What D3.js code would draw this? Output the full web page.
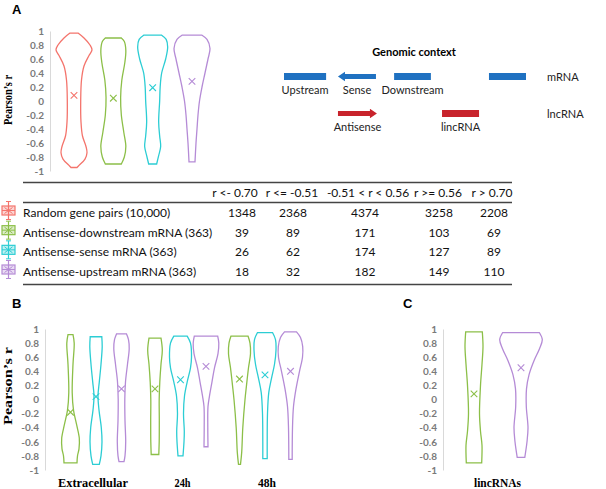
<!DOCTYPE html>
<html><head><meta charset="utf-8">
<script src="https://cdnjs.cloudflare.com/ajax/libs/d3/7.8.5/d3.min.js"></script>
<style>body{margin:0;background:#fff}svg{display:block}</style>
</head><body><svg id="c" width="606" height="489"></svg>
<script>
// ---------------- DATA ----------------
const seriesNames = ["Random gene pairs (10,000)","Antisense-downstream mRNA (363)","Antisense-sense mRNA (363)","Antisense-upstream mRNA (363)"];
const seriesKeys = ["random","downstream","sense","upstream"];
const seriesColors = ["#f4746c","#8cbf48","#2ccdd4","#b58bd6"];
const yTicks = [1,0.8,0.6,0.4,0.2,0,-0.2,-0.4,-0.6,-0.8,-1];

// violin profiles: [r, density(half-width units)]
const violinA_random = [[0.97,4],[0.9,10],[0.8,16],[0.73,18],[0.65,15],[0.5,10],[0.3,7.5],[0,6.7],[-0.3,7],[-0.5,8.5],[-0.65,12],[-0.74,13],[-0.83,11],[-0.92,5],[-0.95,3]];
const violinA_downstream = [[0.9,8],[0.85,11],[0.72,12.5],[0.55,11.5],[0.3,8.5],[0.05,7.3],[-0.2,8],[-0.45,10.5],[-0.65,12.5],[-0.8,11],[-0.9,8]];
const violinA_sense = [[0.94,9],[0.88,13.5],[0.77,15],[0.6,13],[0.4,9],[0.2,7.5],[0,7],[-0.3,6],[-0.5,7],[-0.65,8],[-0.78,6],[-0.9,4]];
const violinA_upstream = [[0.94,10],[0.88,15],[0.75,18],[0.6,16],[0.4,13],[0.2,10],[0,7.5],[-0.2,6],[-0.4,5],[-0.6,4],[-0.87,3]];
const meansA = [0.08,0.04,0.19,0.28];

const tableColumns = ["r <- 0.70","r <= -0.51","-0.51 < r < 0.56","r >= 0.56","r > 0.70"];
const countsRandom = [1348,2368,4374,3258,2208];
const countsDownstream = [39,89,171,103,69];
const countsSense = [26,62,174,127,89];
const countsUpstream = [18,32,182,149,110];

const groupsB = ["Extracellular","24h","48h"];
const seriesB = ["downstream","sense","upstream"];
const violinB_ext_down = [[0.92,2.5],[0.8,3.7],[0.5,2.5],[0.1,1.7],[-0.15,3],[-0.35,6],[-0.55,8.8],[-0.7,8.5],[-0.8,7],[-0.9,6.5]];
const violinB_ext_sense = [[0.89,5.8],[0.75,6.2],[0.5,5],[0.25,3.3],[0.05,2],[-0.15,3],[-0.4,5.3],[-0.6,6],[-0.8,5],[-0.92,3.3]];
const violinB_ext_up = [[0.93,5],[0.85,7],[0.72,7.7],[0.5,6],[0.25,4],[0,3.3],[-0.3,3.5],[-0.6,4.2],[-0.8,3.5],[-0.88,2.5]];
const violinB_24_down = [[0.87,6],[0.7,7.3],[0.5,6],[0.25,4.8],[0,4.2],[-0.3,4.3],[-0.6,4.2],[-0.78,3.8]];
const violinB_24_sense = [[0.9,6.7],[0.8,10],[0.6,11],[0.45,10],[0.25,6.7],[0.05,4],[-0.2,3],[-0.45,3.8],[-0.6,3.5],[-0.8,2.5]];
const violinB_24_up = [[0.9,11.7],[0.8,12.8],[0.65,12],[0.45,8.5],[0.25,6],[0.05,3.5],[-0.1,2],[-0.4,1.8],[-0.67,2]];
const violinB_48_down = [[0.9,8.5],[0.8,10.5],[0.65,11],[0.45,9],[0.2,7],[0,5.5],[-0.4,3.3],[-0.75,2.2],[-0.92,1]];
const violinB_48_sense = [[0.95,7.5],[0.85,10.5],[0.7,11],[0.5,9.5],[0.3,6.5],[0.1,3.8],[-0.2,2.5],[-0.6,2.2],[-0.84,2.2]];
const violinB_48_up = [[0.96,6],[0.88,10],[0.75,12.2],[0.6,12],[0.4,9],[0.15,5.5],[-0.1,3],[-0.4,2],[-0.85,1.7]];
const meansB = [-0.18,0.04,0.15,0.15,0.28,0.47,0.29,0.35,0.4];

const seriesC = ["downstream","upstream"];
const violinC_down = [[0.96,8.3],[0.75,9],[0.5,8],[0.2,6.5],[-0.2,5.5],[-0.45,6.5],[-0.65,8],[-0.9,7.7]];
const violinC_up = [[0.95,18.3],[0.85,21.3],[0.72,18.5],[0.55,13],[0.35,8],[0.15,5.5],[-0.1,5.3],[-0.4,7],[-0.6,6],[-0.82,3.8]];
const meansC = [0.08,0.45];

// genomic context diagram (position units 0-100)
const genomicTracks = ["mRNA","lncRNA"];
const genomicElements = [
  {label:"Upstream", track:"mRNA", start:0, end:17.4, strand:0},
  {label:"Sense", track:"mRNA", start:22.3, end:38, strand:-1},
  {label:"Downstream", track:"mRNA", start:45.5, end:60.7, strand:0},
  {label:"", track:"mRNA", start:84.7, end:100, strand:0},
  {label:"Antisense", track:"lncRNA", start:22.3, end:38.4, strand:1},
  {label:"lincRNA", track:"lncRNA", start:65.3, end:80.6, strand:0}
];
const trackColors = ["#1f71c1","#c8232c"];

// ---------------- DRAW ----------------
const svg = d3.select("#c");
const color = d3.scaleOrdinal(seriesKeys, seriesColors);
const dens = d3.scaleLinear([0,20],[0,20]);
const tickFmt = d => String(+d.toFixed(1));
const sansFont = "Lato, 'Open Sans', sans-serif";

function drawAxis(y, axisX, labelSize) {
  const g = svg.append("g").attr("transform", `translate(${axisX},0)`)
    .call(d3.axisLeft(y).tickValues(yTicks).tickFormat(tickFmt).tickSize(0).tickPadding(6));
  g.select(".domain").attr("stroke","#d9d9d9").attr("stroke-width",1);
  g.selectAll("text").attr("fill","#7a7a7a").attr("font-family",sansFont)
    .attr("font-weight","bold").attr("font-size",labelSize);
}

function drawViolin(profile, cx, y, col, mean) {
  const area = d3.area().curve(d3.curveCatmullRom.alpha(0.5))
    .y(d => y(d[0])).x0(d => cx - dens(d[1])).x1(d => cx + dens(d[1]));
  svg.append("path").attr("d", area(profile)).attr("fill","none")
    .attr("stroke", col).attr("stroke-width",1.3);
  const s = 3.3, my = y(mean);
  svg.append("path").attr("d", `M${cx-s},${my-s}L${cx+s},${my+s}M${cx-s},${my+s}L${cx+s},${my-s}`)
    .attr("stroke", col).attr("stroke-width",1.1);
}

function panelLabel(t, x, yb) {
  svg.append("text").text(t).attr("x",x).attr("y",yb).attr("font-family","'Liberation Sans', Arial, sans-serif")
    .attr("font-weight","bold").attr("font-size",13).attr("fill","#000");
}
function yTitle(cx, cy, size, len) {
  svg.append("text").text("Pearson\u2019s r").attr("transform",`translate(${cx},${cy}) rotate(-90)`)
    .attr("text-anchor","middle").attr("font-family","'Liberation Serif', 'Times New Roman', serif")
    .attr("font-weight","bold").attr("font-size",size).attr("textLength",len).attr("lengthAdjust","spacingAndGlyphs");
}

// Panel A
panelLabel("A", 12, 14);
const yA = d3.scaleLinear([-1,1],[171,31]);
drawAxis(yA, 50, 10);
yTitle(12, 100, 12, 50);
const xA = d3.scalePoint(seriesKeys, [74,192]);
const violinsA = [violinA_random, violinA_downstream, violinA_sense, violinA_upstream];
seriesKeys.forEach((k,i) => drawViolin(violinsA[i], xA(k), yA, color(k), meansA[i]));

// Genomic context
const gx = d3.scaleLinear([0,100],[284,526]);
const gy = d3.scalePoint(genomicTracks, [76.5,113.5]);
const trackColor = d3.scaleOrdinal(genomicTracks, trackColors);
svg.append("text").text("Genomic context").attr("x",414).attr("y",56).attr("text-anchor","middle")
  .attr("font-family",sansFont).attr("font-weight","bold").attr("font-size",11);
genomicElements.forEach(e => {
  const x0 = gx(e.start), x1 = gx(e.end), cy = gy(e.track), c = trackColor(e.track);
  const h = 3.5, hh = 4.8, head = 7;
  let d;
  if (e.strand === 0) d = `M${x0},${cy-h}H${x1}V${cy+h}H${x0}Z`;
  else if (e.strand === -1) d = `M${x0},${cy}L${x0+head},${cy-hh}V${cy-2.6}H${x1}V${cy+2.6}H${x0+head}V${cy+hh}Z`;
  else d = `M${x1},${cy}L${x1-head},${cy-hh}V${cy-2.6}H${x0}V${cy+2.6}H${x1-head}V${cy+hh}Z`;
  svg.append("path").attr("d",d).attr("fill",c);
  if (e.label) svg.append("text").text(e.label).attr("x",(x0+x1)/2).attr("y",cy+17.5)
    .attr("text-anchor","middle").attr("font-family",sansFont).attr("font-size",11).attr("fill","#222");
});
genomicTracks.forEach(t => {
  svg.append("text").text(t).attr("x",547).attr("y",gy(t)+4.5).attr("font-family",sansFont)
    .attr("font-size",11).attr("fill","#222");
});

// Table
const colX = d3.scaleOrdinal(tableColumns, [242,293,365,439,494]);
const headX = d3.scaleOrdinal(tableColumns, [235,292,368,438,492]);
const rowY = d3.scalePoint(seriesKeys, [217,276]);
const allCounts = [countsRandom, countsDownstream, countsSense, countsUpstream];
const tf = {"font-family":sansFont, "font-size":12, "fill":"#111"};
function styled(sel){ Object.entries(tf).forEach(([k,v])=>sel.attr(k,v)); return sel; }
[182.5, 202.5, 284.5].forEach(ly => svg.append("line").attr("x1",23).attr("x2",512).attr("y1",ly).attr("y2",ly)
  .attr("stroke","#444").attr("stroke-width",1.3));
tableColumns.forEach(c => styled(svg.append("text").text(c).attr("x",headX(c)).attr("y",197).attr("text-anchor","middle")));
seriesKeys.forEach((k,i) => {
  const ry = rowY(k), c = color(k), cx = 8.5, cy = ry - 6.5;
  // legend icon
  svg.append("line").attr("x1",cx).attr("x2",cx).attr("y1",cy-9).attr("y2",cy+9).attr("stroke",c).attr("stroke-width",1.2);
  svg.append("line").attr("x1",cx-2.5).attr("x2",cx+2.5).attr("y1",cy-9).attr("y2",cy-9).attr("stroke",c);
  svg.append("line").attr("x1",cx-2.5).attr("x2",cx+2.5).attr("y1",cy+9).attr("y2",cy+9).attr("stroke",c);
  svg.append("rect").attr("x",cx-6.5).attr("y",cy-4.5).attr("width",13).attr("height",9)
    .attr("fill",d3.color(c).copy({opacity:0.3}).formatRgb());
  svg.append("rect").attr("x",cx-6.5).attr("y",cy-4.5).attr("width",13).attr("height",9).attr("fill","none").attr("stroke",c).attr("stroke-width",1.2);
  svg.append("path").attr("d",`M${cx-4},${cy-3}L${cx+4},${cy+3}M${cx-4},${cy+3}L${cx+4},${cy-3}M${cx-6.5},${cy}H${cx+6.5}`)
    .attr("stroke",c).attr("stroke-width",1);
  styled(svg.append("text").text(seriesNames[i]).attr("x",23).attr("y",ry));
  tableColumns.forEach((col,j) => styled(svg.append("text").text(allCounts[i][j]).attr("x",colX(col)).attr("y",ry).attr("text-anchor","middle")));
});

// Panel B
panelLabel("B", 12, 308);
const yB = d3.scaleLinear([-1,1],[470,329]);
drawAxis(yB, 45, 10);
yTitle(12, 386, 13, 78);
const xGroup = d3.scalePoint(groupsB, [96,265]);
const xInner = d3.scalePoint(seriesB, [-25.5,25.5]);
const violinsB = [[violinB_ext_down,violinB_ext_sense,violinB_ext_up],[violinB_24_down,violinB_24_sense,violinB_24_up],[violinB_48_down,violinB_48_sense,violinB_48_up]];
groupsB.forEach((g,gi) => {
  seriesB.forEach((s,si) => drawViolin(violinsB[gi][si], xGroup(g)+xInner(s), yB, color(s), meansB[gi*3+si]));
});
const groupLabelLen = [70,16,18];
groupsB.forEach((g,gi) => svg.append("text").text(g).attr("x",xGroup(g)-(gi===0?3:-2)).attr("y",487)
  .attr("text-anchor","middle").attr("font-family","'Liberation Serif', 'Times New Roman', serif")
  .attr("font-weight","bold").attr("font-size",12).attr("textLength",groupLabelLen[gi]).attr("lengthAdjust","spacingAndGlyphs"));

// Panel C
panelLabel("C", 403, 308);
drawAxis(yB, 443, 10);
const xC = d3.scalePoint(seriesC, [474,521]);
const violinsC = [violinC_down, violinC_up];
seriesC.forEach((s,i) => drawViolin(violinsC[i], xC(s), yB, color(s), meansC[i]));
svg.append("text").text("lincRNAs").attr("x",d3.mean(seriesC, s => xC(s))).attr("y",487)
  .attr("text-anchor","middle").attr("font-family","'Liberation Serif', 'Times New Roman', serif")
  .attr("font-weight","bold").attr("font-size",12).attr("textLength",47).attr("lengthAdjust","spacingAndGlyphs");
</script></body></html>
